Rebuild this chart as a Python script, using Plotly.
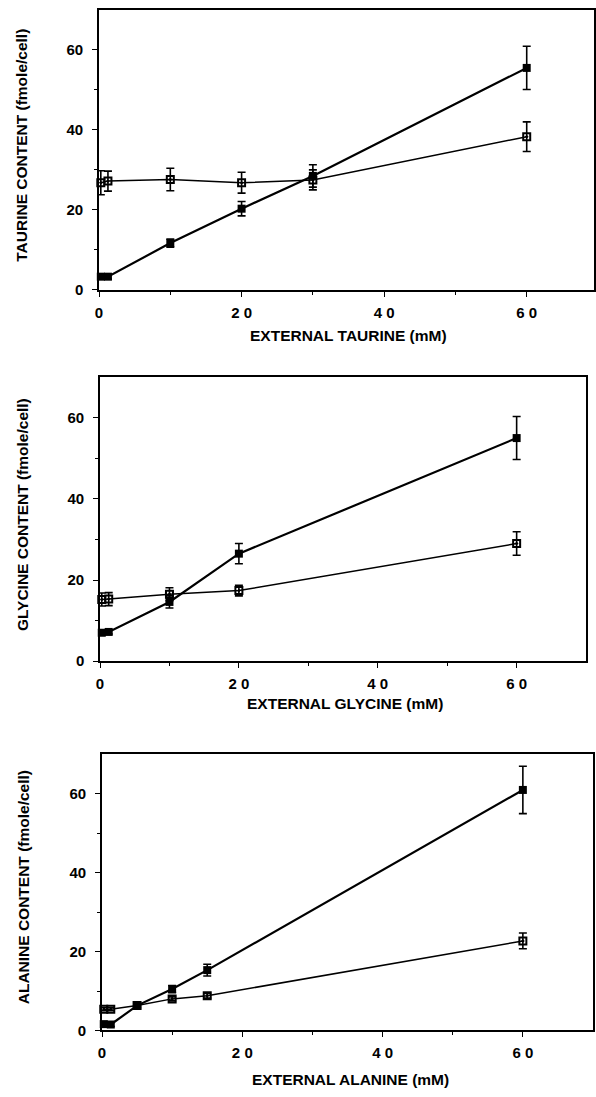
import plotly.graph_objects as go

# ---------------- data ----------------
# Panel 1: taurine
tau_x_filled = [0.25, 1.25, 10, 20, 30, 60]
tau_y_filled = [3.3, 3.3, 11.7, 20.3, 28.5, 55.5]
tau_e_filled = [0.6, 0.6, 1.0, 1.8, 2.8, 5.4]
tau_x_open = [0.25, 1.25, 10, 20, 30, 60]
tau_y_open = [26.8, 27.2, 27.6, 26.8, 27.5, 38.3]
tau_e_open = [3.0, 2.5, 2.8, 2.6, 2.5, 3.7]

# Panel 2: glycine
gly_x_filled = [0.25, 1.25, 10, 20, 60]
gly_y_filled = [7.0, 7.2, 14.6, 26.5, 55.0]
gly_e_filled = [0.5, 0.5, 1.5, 2.5, 5.3]
gly_x_open = [0.25, 1.25, 10, 20, 60]
gly_y_open = [15.2, 15.3, 16.5, 17.4, 29.0]
gly_e_open = [1.6, 1.6, 1.6, 1.3, 2.9]

# Panel 3: alanine
ala_x_filled = [0.25, 1.25, 5, 10, 15, 60]
ala_y_filled = [1.6, 1.5, 6.3, 10.5, 15.3, 61.0]
ala_e_filled = [0.5, 0.5, 0.6, 0.9, 1.5, 6.0]
ala_x_open = [0.25, 1.25, 5, 10, 15, 60]
ala_y_open = [5.4, 5.4, 6.3, 8.0, 8.8, 22.7]
ala_e_open = [0.4, 0.4, 0.4, 0.5, 0.6, 2.0]

x_tickvals = [0, 20, 40, 60]
x_ticktext = ["0", "2 0", "4 0", "6 0"]
y_tickvals = [0, 20, 40, 60]
y_ticktext = ["0", "20", "40", "60"]
minor_vals = [10, 30, 50]

y_titles = ["TAURINE CONTENT (fmole/cell)", "GLYCINE CONTENT (fmole/cell)",
            "ALANINE CONTENT (fmole/cell)"]
x_titles = ["EXTERNAL TAURINE (mM)", "EXTERNAL GLYCINE (mM)",
            "EXTERNAL ALANINE (mM)"]

# ---------------- layout geometry ----------------
W, H = 596, 1097
FONT = "Liberation Sans, Arial, sans-serif"

panels = [
    dict(left=96, right=596, top=10, bottom=292, xmax=69.44,
         data=(tau_x_filled, tau_y_filled, tau_e_filled, tau_x_open, tau_y_open, tau_e_open),
         ytitle_x=18, xtitle=(348, 338)),
    dict(left=97, right=588, top=380, bottom=666, xmax=70,
         data=(gly_x_filled, gly_y_filled, gly_e_filled, gly_x_open, gly_y_open, gly_e_open),
         ytitle_x=18, xtitle=(344, 709)),
    dict(left=99, right=595, top=760, bottom=1038, xmax=70,
         data=(ala_x_filled, ala_y_filled, ala_e_filled, ala_x_open, ala_y_open, ala_e_open),
         ytitle_x=20, xtitle=(350, 1087)),
]

fig = go.Figure()
annotations = []
layout = {}

for i, p in enumerate(panels):
    n = "" if i == 0 else str(i + 1)
    xa, ya = "x" + n, "y" + n
    xf, yf, ef, xo, yo, eo = p["data"]

    fig.add_trace(go.Scatter(
        x=xo, y=yo, xaxis=xa, yaxis=ya, mode="lines+markers",
        line=dict(color="black", width=1.5),
        marker=dict(symbol="square-open-dot", size=7, color="black",
                    line=dict(color="black", width=2)),
        error_y=dict(type="data", array=eo, visible=True, color="black",
                     thickness=1.6, width=4),
        cliponaxis=False, showlegend=False))
    fig.add_trace(go.Scatter(
        x=xf, y=yf, xaxis=xa, yaxis=ya, mode="lines+markers",
        line=dict(color="black", width=2.2),
        marker=dict(symbol="square", size=8, color="black"),
        error_y=dict(type="data", array=ef, visible=True, color="black",
                     thickness=1.6, width=4),
        cliponaxis=False, showlegend=False))

    axis_common = dict(
        showline=True, linecolor="black", linewidth=1.6, mirror=True,
        showgrid=False, zeroline=False, ticks="outside", ticklen=5,
        tickwidth=1.4, tickcolor="black",
        tickfont=dict(family=FONT, size=15, color="black", weight="bold"),
        tickmode="array",
    )
    layout["xaxis" + n] = dict(
        axis_common,
        domain=[p["left"] / W, p["right"] / W],
        range=[0, p["xmax"]],
        tickvals=x_tickvals, ticktext=x_ticktext,
        minor=dict(tickmode="array", tickvals=minor_vals, ticks="outside",
                   ticklen=3, tickwidth=1.2, tickcolor="black"),
        anchor=ya, ticklabelstandoff=3,
    )
    layout["yaxis" + n] = dict(
        axis_common,
        domain=[1 - p["bottom"] / H, 1 - p["top"] / H],
        range=[0, 70],
        tickvals=y_tickvals, ticktext=y_ticktext,
        minor=dict(tickmode="array", tickvals=minor_vals, ticks="outside",
                   ticklen=3, tickwidth=1.2, tickcolor="black"),
        anchor=xa, ticklabelstandoff=6,
    )

    cy = (p["top"] + p["bottom"]) / 2 - 5
    annotations.append(dict(
        text=y_titles[i], x=p["ytitle_x"] / W, y=1 - cy / H,
        xref="paper", yref="paper", showarrow=False, textangle=-90,
        xanchor="center", yanchor="middle",
        font=dict(family=FONT, size=15.5, color="black", weight="bold")))
    annotations.append(dict(
        text=x_titles[i], x=p["xtitle"][0] / W, y=1 - p["xtitle"][1] / H,
        xref="paper", yref="paper", showarrow=False,
        xanchor="center", yanchor="middle",
        font=dict(family=FONT, size=15.5, color="black", weight="bold")))

fig.update_layout(
    width=W, height=H, margin=dict(l=0, r=0, t=0, b=0),
    paper_bgcolor="white", plot_bgcolor="white",
    annotations=annotations, **layout)

fig.write_html("out.html")
